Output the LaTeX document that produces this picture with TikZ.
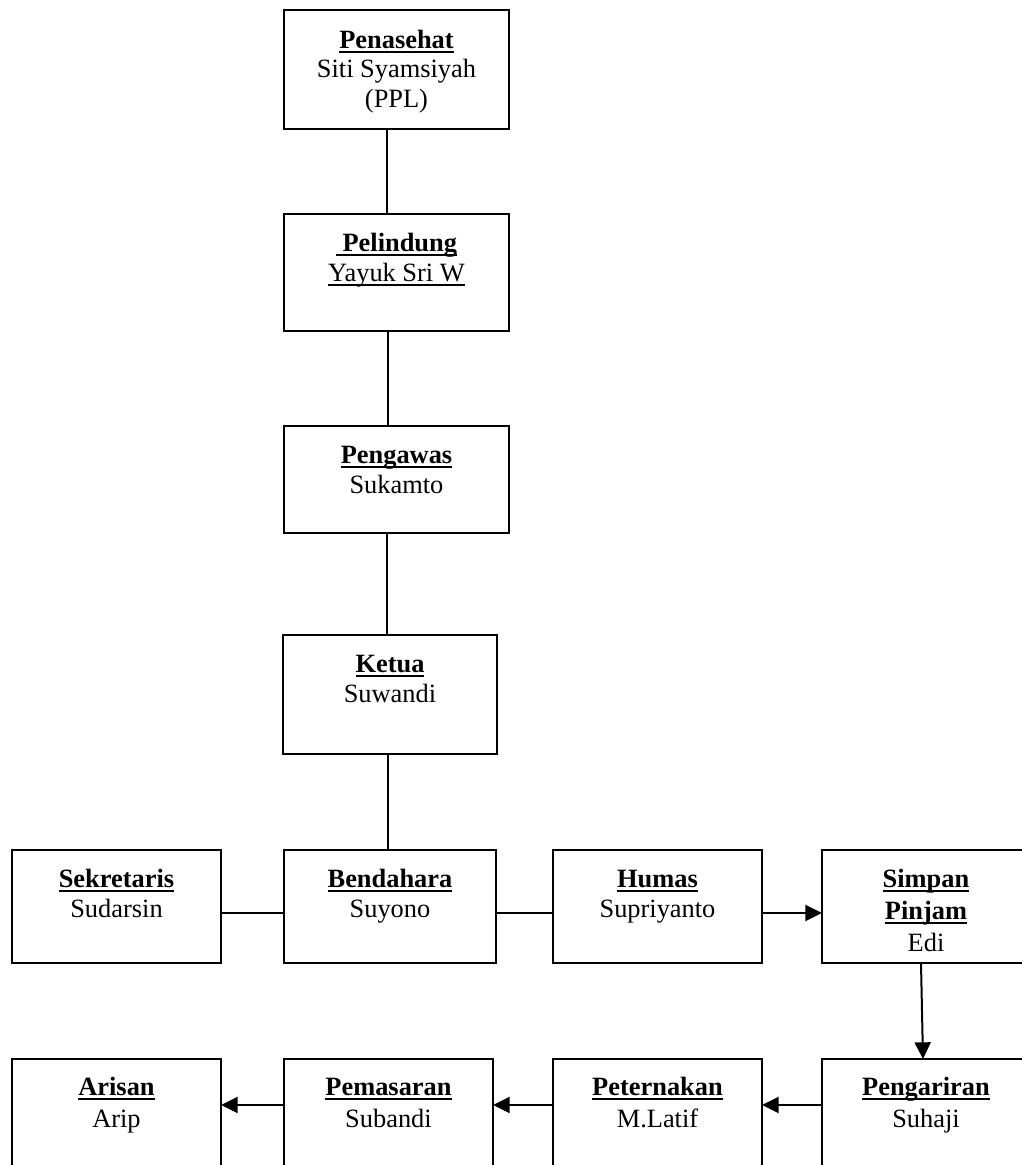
\documentclass[tikz,border=0pt]{standalone}
\usepackage{fontspec}
\setmainfont{Liberation Serif}
\usetikzlibrary{arrows.meta,calc}
\newsavebox\ulbox
\newcommand\myul[1]{\sbox\ulbox{#1}\rlap{\rule[-3.8pt]{\wd\ulbox}{1.8pt}}\usebox\ulbox}
\tikzset{
 orgbox/.style={draw, line width=1.5pt, inner sep=0pt, outer sep=0pt},
 txt/.style={font=\fontsize{19.8pt}{22.5pt}\selectfont, inner sep=0pt, anchor=base},
 conn/.style={line width=1.5pt},
 arr/.style={line width=1.5pt, -{Triangle[length=12.5pt,width=12pt]}}
}
\newcommand\mkbox[5]{\node[orgbox, minimum width={0.75pt*(#4-#2)}, minimum height={0.75pt*(#5-#3)}] (#1) at ({(#2+#4)/2},{(#3+#5)/2}) {};}
\begin{document}
\begin{tikzpicture}[x=0.75pt,y=-0.75pt]
\useasboundingbox (0,0) rectangle (1022,1165);
\fill[white] (0,0) rectangle (1022,1165);
\clip (0,0) rectangle (1022,1165);
% boxes
\mkbox{pena}{284}{10}{509}{129}
\mkbox{pelin}{284}{214}{509}{331}
\mkbox{penga}{284}{426}{509}{533}
\mkbox{ketua}{283}{635}{497}{754}
\mkbox{sek}{12}{850}{221}{963}
\mkbox{bend}{284}{850}{496}{963}
\mkbox{humas}{553}{850}{762}{963}
\mkbox{simpan}{822}{850}{1030}{963}
\mkbox{arisan}{12}{1059}{221}{1172}
\mkbox{pemas}{284}{1059}{493}{1172}
\mkbox{petern}{553}{1059}{762}{1172}
\mkbox{pengar}{822}{1059}{1030}{1172}
% texts
\node[txt] (penaA) at ($(pena.north)+(0,38)$) {\myul{\textbf{Penasehat}}};
\node[txt] (penaB) at ($(pena.north)+(0,67.5)$) {Siti Syamsiyah};
\node[txt] (penaC) at ($(pena.north)+(0,97)$) {(PPL)};
\node[txt] (pelinA) at ($(pelin.north)+(0,37)$) {\myul{\textbf{\ Pelindung}}};
\node[txt] (pelinB) at ($(pelin.north)+(0,67)$) {\myul{Yayuk Sri W}};
\node[txt] (pengaA) at ($(penga.north)+(0,37)$) {\myul{\textbf{Pengawas}}};
\node[txt] (pengaB) at ($(penga.north)+(0,67)$) {Sukamto};
\node[txt] (ketuaA) at ($(ketua.north)+(0,37)$) {\myul{\textbf{Ketua}}};
\node[txt] (ketuaB) at ($(ketua.north)+(0,67)$) {Suwandi};
\node[txt] (sekA) at ($(sek.north)+(0,37)$) {\myul{\textbf{Sekretaris}}};
\node[txt] (sekB) at ($(sek.north)+(0,67)$) {Sudarsin};
\node[txt] (bendA) at ($(bend.north)+(0,37)$) {\myul{\textbf{Bendahara}}};
\node[txt] (bendB) at ($(bend.north)+(0,67)$) {Suyono};
\node[txt] (humasA) at ($(humas.north)+(0,37)$) {\myul{\textbf{Humas}}};
\node[txt] (humasB) at ($(humas.north)+(0,67)$) {Supriyanto};
\node[txt] (simpanA) at ($(simpan.north)+(0,37)$) {\myul{\textbf{Simpan}}};
\node[txt] (simpanB) at ($(simpan.north)+(0,69)$) {\myul{\textbf{Pinjam}}};
\node[txt] (simpanC) at ($(simpan.north)+(0,101)$) {Edi};
\node[txt] (arisanA) at ($(arisan.north)+(0,36)$) {\myul{\textbf{Arisan}}};
\node[txt] (arisanB) at ($(arisan.north)+(0,68)$) {Arip};
\node[txt] (pemasA) at ($(pemas.north)+(0,36)$) {\myul{\textbf{Pemasaran}}};
\node[txt] (pemasB) at ($(pemas.north)+(0,68)$) {Subandi};
\node[txt] (peternA) at ($(petern.north)+(0,36)$) {\myul{\textbf{Peternakan}}};
\node[txt] (peternB) at ($(petern.north)+(0,68)$) {M.Latif};
\node[txt] (pengarA) at ($(pengar.north)+(0,36)$) {\myul{\textbf{Pengariran}}};
\node[txt] (pengarB) at ($(pengar.north)+(0,68)$) {Suhaji};
% connectors
\draw[conn] (387,0 |- pena.south) -- (387,0 |- pelin.north);
\draw[conn] (388,0 |- pelin.south) -- (388,0 |- penga.north);
\draw[conn] (387,0 |- penga.south) -- (387,0 |- ketua.north);
\draw[conn] (388,0 |- ketua.south) -- (388,0 |- bend.north);
\draw[conn] (sek.east |- 0,913) -- (bend.west |- 0,913);
\draw[conn] (bend.east |- 0,913) -- (humas.west |- 0,913);
\draw[arr] (humas.east |- 0,913) -- (simpan.west |- 0,913);
\draw[arr] (921,0 |- simpan.south) -- (923,0 |- pengar.north);
\draw[arr] (pengar.west |- 0,1105) -- (petern.east |- 0,1105);
\draw[arr] (petern.west |- 0,1105) -- (pemas.east |- 0,1105);
\draw[arr] (pemas.west |- 0,1105) -- (arisan.east |- 0,1105);
\end{tikzpicture}
\end{document}
